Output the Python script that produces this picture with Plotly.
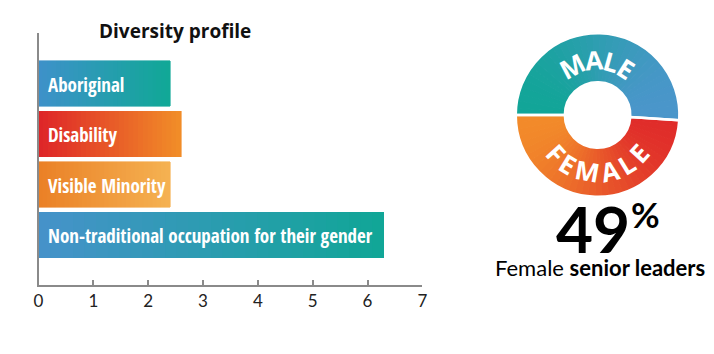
import math
import plotly.graph_objects as go

# ---------------- data ----------------
categories = ["Aboriginal", "Disability", "Visible Minority",
              "Non-traditional occupation for their gender"]
values = [2.4, 2.6, 2.4, 6.3]
x_ticks = [0, 1, 2, 3, 4, 5, 6, 7]

gender_labels = ["MALE", "FEMALE"]
gender_share = [51, 49]
female_leaders_pct = 49

# ---------------- styles ----------------
W, H = 714, 354
bar_grad = [((62, 145, 202), (16, 168, 150)),
            ((222, 36, 40), (241, 142, 40)),
            ((234, 128, 38), (245, 178, 82)),
            ((70, 146, 202), (16, 166, 150))]
male_grad = ((18, 165, 152), (74, 150, 202))
female_grad = ((242, 138, 42), (224, 44, 42))


def mix(c0, c1, t):
    return "rgb(%d,%d,%d)" % tuple(round(a + (b - a) * t) for a, b in zip(c0, c1))


fig = go.Figure()

# gradient bars: each bar is split into equal stacked pieces
N = 30
for k in range(N):
    t = (k + 0.5) / N
    cols = [mix(g[0], g[1], t) for g in bar_grad]
    fig.add_trace(go.Bar(
        x=[v / N for v in values], y=categories, orientation="h",
        marker=dict(color=cols, line=dict(color=cols, width=0.6)),
        width=0.9, hoverinfo="skip", showlegend=False,
        xaxis="x", yaxis="y"))

# donut (gradient as sub-slices)
cx, cy, R = 601, 115, 83
hole = 0.40
M = 36
pie_vals, pie_cols = [], []
total = sum(gender_share)
start = -90.0
acc = 0.0
for gi, share in enumerate(gender_share):
    g = male_grad if gi == 0 else female_grad
    for k in range(M):
        v = share / M
        mid = start + (acc + v / 2) / total * 360.0
        xpos = (1 + math.sin(math.radians(mid))) / 2
        pie_vals.append(v)
        pie_cols.append(mix(g[0], g[1], xpos))
        acc += v

dom = dict(x=[(cx - R) / W, (cx + R) / W], y=[1 - (cy + R) / H, 1 - (cy - R) / H])
fig.add_trace(go.Pie(
    values=pie_vals, sort=False, direction="clockwise", rotation=-90,
    hole=hole, domain=dom, textinfo="none", hoverinfo="skip",
    marker=dict(colors=pie_cols, line=dict(color=pie_cols, width=1)),
    showlegend=False))
fig.add_trace(go.Pie(
    values=gender_share, labels=gender_labels, sort=False, direction="clockwise",
    rotation=-90, hole=hole, domain=dom, textinfo="none", hoverinfo="skip",
    marker=dict(colors=["rgba(0,0,0,0)"] * 2, line=dict(color="white", width=2.5)),
    showlegend=False))

annotations = []
# bar labels
for c in categories:
    annotations.append(dict(
        x=0, y=c, xref="x", yref="y", xanchor="left", yanchor="middle",
        xshift=7, yshift=-1, text="<b>%s</b>" % c, showarrow=False,
        font=dict(family="Open Sans Condensed, Roboto Condensed, sans-serif",
                  size=19, color="white")))

# title
annotations.append(dict(
    x=172 / W, y=1 - 31 / H, xref="paper", yref="paper", text="<b>Diversity profile</b>",
    showarrow=False, xanchor="center", yanchor="middle",
    font=dict(family="Open Sans, sans-serif", size=19, color="#111")))

# curved donut letters
LETTER_W = {"M": 0.92, "A": 0.74, "L": 0.56, "E": 0.58, "F": 0.56}
LSIZE = 26


def arc_letters(word, r, top, gap=1.5):
    arcs = [LETTER_W[ch] * LSIZE for ch in word]
    total_arc = sum(arcs) + gap * (len(word) - 1)
    pos = -total_arc / 2
    for ch, w in zip(word, arcs):
        a = math.degrees((pos + w / 2) / r)
        pos += w + gap
        px = cx + r * math.sin(math.radians(a))
        if top:
            py = cy - r * math.cos(math.radians(a))
            ang = a
        else:
            py = cy + r * math.cos(math.radians(a))
            ang = -a
        annotations.append(dict(
            x=px / W, y=1 - py / H, xref="paper", yref="paper", text="<b>%s</b>" % ch,
            showarrow=False, xanchor="center", yanchor="middle", textangle=ang,
            font=dict(family="Open Sans, sans-serif", size=LSIZE, weight=800, color="white")))


arc_letters(gender_labels[0], 55, True)
arc_letters(gender_labels[1], 57, False)

# 49%
annotations.append(dict(
    x=596 / W, y=1 - 228 / H, xref="paper", yref="paper",
    text="<b>%d</b>" % female_leaders_pct, showarrow=False,
    xanchor="center", yanchor="middle", height=54, valign="middle",
    font=dict(family="Lato, sans-serif", size=64, weight=900, color="#000")))
annotations.append(dict(
    x=633 / W, y=1 - 214 / H, xref="paper", yref="paper", text="<b>%</b>",
    showarrow=False, xanchor="left", yanchor="middle",
    font=dict(family="Lato, sans-serif", size=35, color="#000")))
annotations.append(dict(
    x=603 / W, y=1 - 267 / H, xref="paper", yref="paper",
    text="Female <b>senior leaders</b>", showarrow=False,
    xanchor="center", yanchor="middle",
    font=dict(family="Lato, sans-serif", size=22, color="#000")))

fig.update_layout(
    width=W, height=H, margin=dict(l=0, r=0, t=0, b=0),
    paper_bgcolor="white", plot_bgcolor="white",
    barmode="stack", bargap=0.1, showlegend=False,
    xaxis=dict(domain=[34 / W, 423.3 / W], range=[0, 7], tickvals=x_ticks,
               showline=True, linecolor="#8a8a8a", linewidth=1.5,
               ticks="inside", ticklen=5, tickcolor="#8a8a8a", tickwidth=1.5,
               showgrid=False, zeroline=False,
               tickfont=dict(family="Lato, sans-serif", size=17, color="#222")),
    yaxis=dict(domain=[1 - 285 / H, 1 - 33 / H], type="category",
               categoryorder="array", categoryarray=categories,
               range=[3.99, -1.0], showline=True, linecolor="#8a8a8a", linewidth=1.5,
               showticklabels=False, ticks="", showgrid=False, zeroline=False),
    annotations=annotations,
)

fig.write_html("out.html")
